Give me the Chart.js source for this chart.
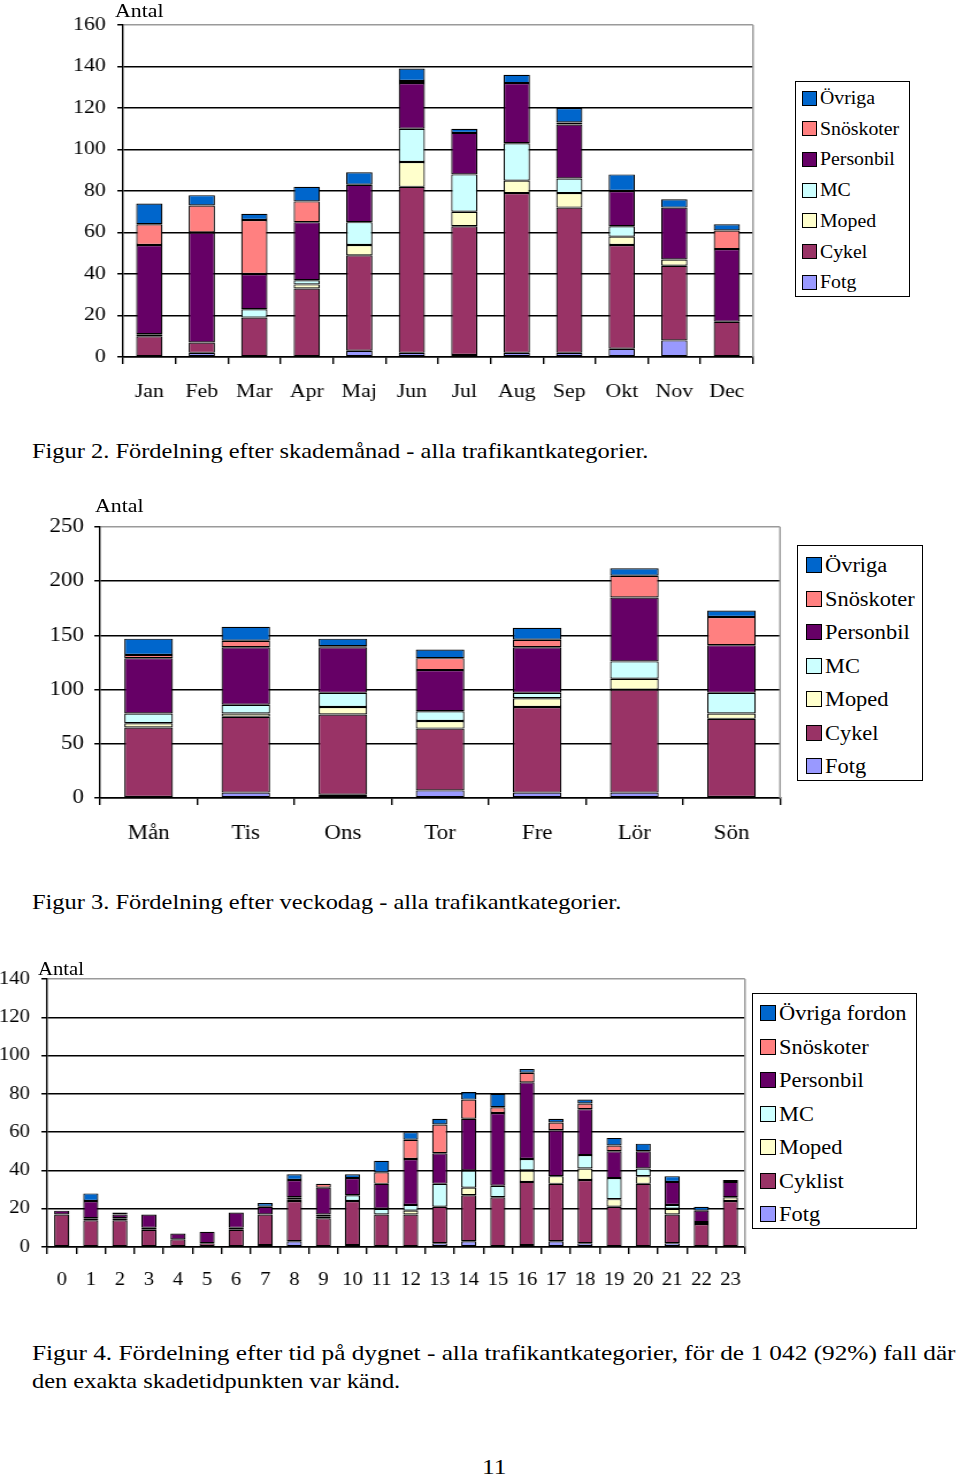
<!DOCTYPE html>
<html><head><meta charset="utf-8">
<script src="https://cdn.jsdelivr.net/npm/chart.js@4.4.1/dist/chart.umd.min.js"></script>
<style>
body{margin:0;width:960px;height:1477px;background:#fff;position:relative;font-family:"Liberation Serif","Times New Roman",serif;color:#000;overflow:hidden}
canvas{position:absolute;left:0;transform:scaleX(1.15);transform-origin:0 0}
.legend{position:absolute;border:1.5px solid #000;box-sizing:border-box;background:#fff}
.li{position:absolute;white-space:nowrap;display:flex;align-items:center;line-height:1}
.sw{display:inline-block;border:1.5px solid #000;box-sizing:border-box;margin-right:3px;flex:none}
.lt{display:inline-block;transform-origin:0 50%}
.txt{position:absolute;white-space:nowrap;line-height:1;transform:scaleX(1.15);transform-origin:0 0}
.cap{position:absolute;white-space:nowrap;line-height:1;font-size:22px;transform:scaleX(1.11);transform-origin:0 0}
</style></head><body>
<canvas id="c1" width="661" height="410" style="top:1px"></canvas>
<canvas id="c2" width="687" height="360" style="top:491px"></canvas>
<canvas id="c3" width="652" height="350" style="top:951px"></canvas>
<div class="txt" style="left:115px;top:1px;font-size:19px">Antal</div>
<div class="txt" style="left:95px;top:496px;font-size:19px">Antal</div>
<div class="txt" style="left:38px;top:960px;font-size:18px">Antal</div>
<div class="cap" style="left:32px;top:440px">Figur 2. Fördelning efter skademånad - alla trafikantkategorier.</div>
<div class="cap" style="left:32px;top:891px">Figur 3. Fördelning efter veckodag - alla trafikantkategorier.</div>
<div class="cap" style="left:32px;top:1342px;transform:scaleX(1.15)">Figur 4. Fördelning efter tid på dygnet - alla trafikantkategorier, för de 1 042 (92%) fall där</div>
<div class="cap" style="left:32px;top:1370px">den exakta skadetidpunkten var känd.</div>
<div class="txt" style="left:482px;top:1456px;font-size:22px">11</div>
<div id="lg1" class="legend" style="left:795px;top:81px;width:115px;height:216px"></div>
<div id="lg2" class="legend" style="left:797px;top:545px;width:126px;height:236px"></div>
<div id="lg3" class="legend" style="left:752px;top:993px;width:165px;height:236px"></div>
<script>
// ---- shared series definitions (stack order bottom -> top) ----
const seriesNames = ['Fotg','Cykel','Moped','MC','Personbil','Snöskoter','Övriga'];
const seriesNames3 = ['Fotg','Cyklist','Moped','MC','Personbil','Snöskoter','Övriga fordon'];
const seriesColors = ['#9999FF','#993366','#FFFFCC','#CCFFFF','#660066','#FF8080','#0066CC'];

// ---- Figur 2: per month ----
const months = ['Jan','Feb','Mar','Apr','Maj','Jun','Jul','Aug','Sep','Okt','Nov','Dec'];
const mFotg      = [0, 2, 0, 0, 3, 2, 1, 2, 2, 4, 8, 0];
const mCykel     = [10, 5, 19, 33, 46, 80, 62, 77, 70, 50, 36, 17];
const mMoped     = [1, 0, 0, 2, 5, 12, 7, 6, 7, 4, 3, 0];
const mMC        = [0, 0, 4, 2, 11, 16, 18, 18, 7, 5, 0, 0];
const mPersonbil = [43, 53, 17, 28, 18, 22, 20, 29, 26, 17, 25, 35];
const mSnoskoter = [10, 13, 26, 10, 0, 1, 0, 0, 1, 0, 0, 9];
const mOvriga    = [10, 5, 3, 7, 6, 6, 2, 4, 7, 8, 4, 3];
const mTicks = {max:160, step:20};

// ---- Figur 3: per weekday ----
const days = ['Mån','Tis','Ons','Tor','Fre','Lör','Sön'];
const dFotg      = [1, 5, 3, 7, 5, 5, 1];
const dCykel     = [64, 70, 74, 57, 79, 95, 72];
const dMoped     = [4, 3, 7, 7, 8, 10, 5];
const dMC        = [9, 8, 13, 9, 5, 16, 19];
const dPersonbil = [51, 53, 42, 38, 42, 59, 44];
const dSnoskoter = [3, 6, 1, 11, 7, 20, 26];
const dOvriga    = [15, 13, 7, 8, 11, 7, 6];
const dTicks = {max:250, step:50};

// ---- Figur 4: per hour ----
const hours = ['0','1','2','3','4','5','6','7','8','9','10','11','12','13','14','15','16','17','18','19','20','21','22','23'];
const hFotg      = [0,0,0,0,0,0,0,1,3,0,1,0,0,2,3,0,1,3,2,0,0,2,0,0];
const hCyklist   = [17,14,14,9,4,2,9,16,21,15,23,17,17,19,24,26,33,30,33,21,33,15,12,24];
const hMoped     = [0,1,1,1,0,0,1,0,1,1,0,0,2,0,4,0,6,4,6,4,4,3,1,2];
const hMC        = [0,0,0,0,0,0,0,0,1,1,3,3,3,12,9,6,6,0,7,11,4,2,0,0];
const hPersonbil = [2,9,2,7,3,6,8,4,9,14,9,13,24,16,27,38,40,24,24,14,9,12,6,8];
const hSnoskoter = [0,0,0,0,0,0,0,0,0,2,0,6,10,15,10,3,5,4,3,3,0,0,0,0];
const hOvriga    = [0,4,1,0,0,0,0,2,3,0,2,6,4,3,4,7,2,2,2,4,4,3,2,1];
const hTicks = {max:140, step:20};

const FONT = "'Liberation Serif','Times New Roman',serif";

const plotBorder = {
  id:'plotBorder',
  afterDraw(c){
    const a=c.chartArea, x=c.ctx;
    x.save(); x.strokeStyle='#9a9a9a'; x.lineWidth=1.5;
    x.beginPath(); x.moveTo(a.right, a.top); x.lineTo(a.right, a.bottom); x.stroke();
    x.restore();
  }
};

function makeChart(id, labels, series, names, o){
  return new Chart(document.getElementById(id), {
    type:'bar',
    data:{
      labels,
      datasets: series.map((d,i)=>({
        label:names[i], data:d, backgroundColor:seriesColors[i],
        borderColor:'#000', borderWidth:1.2, borderSkipped:false,
        barPercentage:1, categoryPercentage:o.cat
      }))
    },
    options:{
      responsive:false, animation:false, devicePixelRatio:1,
      layout:{padding:{left:0, top:o.top, right:o.right, bottom:0}},
      plugins:{legend:{display:false}, tooltip:{enabled:false}},
      scales:{
        x:{
          stacked:true,
          grid:{offset:true, drawOnChartArea:false, drawTicks:true, tickLength:7, color:'#000', lineWidth:1.4},
          border:{color:'#000', width:1.5},
          ticks:{color:'#000', font:{family:FONT, size:o.xfs, lineHeight:o.xlh}, padding:3, maxRotation:0, autoSkip:false},
          afterFit:s=>{s.height=o.xh;}
        },
        y:{
          stacked:true, min:0, max:o.max,
          ticks:{stepSize:o.step, color:'#000', font:{family:FONT, size:o.yfs}, padding:o.ypad},
          grid:{color:c=>(c.tick && c.tick.value===o.max)?'#9a9a9a':'#000', tickColor:'#000', lineWidth:1.5, tickLength:5},
          border:{color:'#000', width:1.4},
          afterFit:s=>{s.width=o.yw;}
        }
      }
    },
    plugins:[plotBorder]
  });
}

makeChart('c1', months, [mFotg,mCykel,mMoped,mMC,mPersonbil,mSnoskoter,mOvriga], seriesNames,
  {cat:0.5, top:24, right:6.2, xh:54, yw:107, xfs:19, xlh:2.64, yfs:19, ypad:10, max:mTicks.max, step:mTicks.step});
makeChart('c2', days, [dFotg,dCykel,dMoped,dMC,dPersonbil,dSnoskoter,dOvriga], seriesNames,
  {cat:0.5, top:36, right:8.7, xh:53, yw:87, xfs:20, xlh:2.55, yfs:20, ypad:9, max:dTicks.max, step:dTicks.step});
makeChart('c3', hours, [hFotg,hCyklist,hMoped,hMC,hPersonbil,hSnoskoter,hOvriga], seriesNames3,
  {cat:0.52, top:28, right:4.2, xh:54, yw:41, xfs:18, xlh:2.64, yfs:18, ypad:10, max:hTicks.max, step:hTicks.step});

function makeLegend(id, names, o){
  const el=document.getElementById(id);
  for(let k=names.length-1, r=0; k>=0; k--, r++){
    const it=document.createElement('div');
    it.className='li';
    it.style.left=o.left+'px';
    it.style.top=(o.first + r*o.gap - o.fs/2)+'px';
    it.style.height=o.fs+'px';
    it.style.fontSize=o.fs+'px';
    const sw=document.createElement('span');
    sw.className='sw';
    sw.style.width=o.sw+'px'; sw.style.height=o.sw+'px';
    sw.style.background=seriesColors[k];
    it.appendChild(sw);
    const t=document.createElement('span');
    t.className='lt';
    t.style.transform='scaleX('+o.sx+')';
    t.textContent=names[k];
    it.appendChild(t);
    el.appendChild(it);
  }
}
makeLegend('lg1', seriesNames, {left:6, first:16, gap:30.7, fs:18, sw:15, sx:1.1});
makeLegend('lg2', seriesNames, {left:8, first:19, gap:33.5, fs:20, sw:16, sx:1.12});
makeLegend('lg3', seriesNames3, {left:7, first:19, gap:33.5, fs:20, sw:16, sx:1.12});
</script>
</body></html>
